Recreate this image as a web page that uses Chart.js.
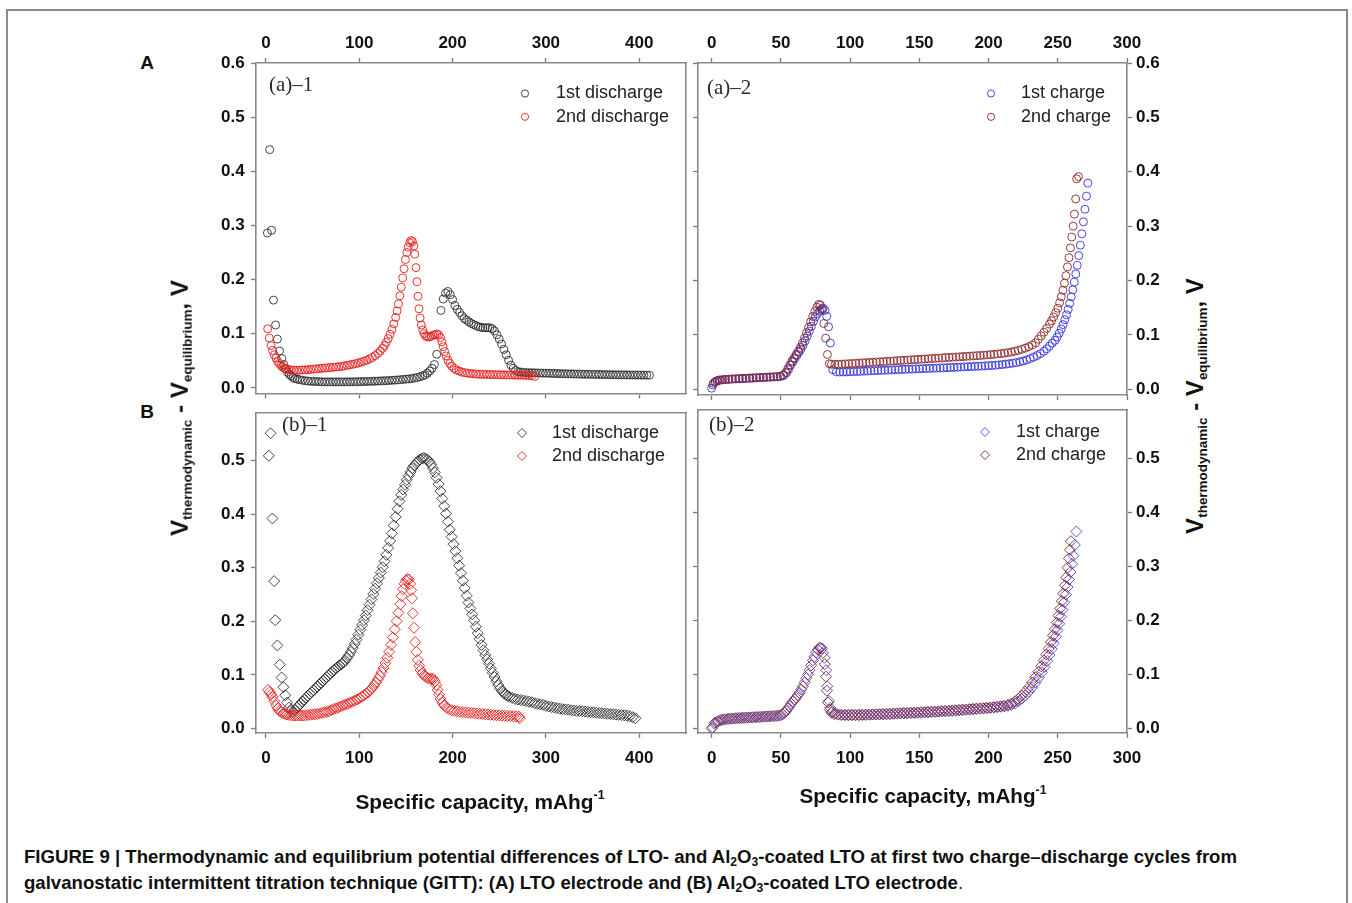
<!DOCTYPE html>
<html><head><meta charset="utf-8">
<script src="https://cdn.jsdelivr.net/npm/chart.js@4.4.1/dist/chart.umd.min.js"></script>
<style>
html,body{margin:0;padding:0;background:#fff;}
#wrap{position:relative;width:1352px;height:903px;overflow:hidden;background:#fff;font-family:'Liberation Sans',Arial,sans-serif;color:#111;}
.frame{position:absolute;left:6px;top:9px;width:1342px;height:900px;border:2px solid #8a8a8a;border-bottom:none;box-sizing:border-box;}
canvas{position:absolute;}
.c{position:absolute;transform:translate(-50%,-50%);white-space:nowrap;font-weight:bold;line-height:1;}
.yt{position:absolute;white-space:nowrap;font-weight:bold;font-size:22px;line-height:1;transform:translate(-50%,-50%) rotate(-90deg);}
.yt sub{font-size:0.56em;vertical-align:-0.3em;}
.xt{font-size:19px;}
.xt sup{font-size:0.6em;vertical-align:0.75em;font-weight:bold;}
.cap{position:absolute;left:24px;white-space:nowrap;font-weight:bold;font-size:16px;line-height:1;transform:translateY(-50%);}
.cap sub{font-size:0.65em;vertical-align:-0.25em;}
</style>
</head><body>
<div id="wrap">
  <div class="frame"></div>
  <canvas id="cA1" width="505" height="395" style="left:190px;top:15px"></canvas>
  <canvas id="cA2" width="490" height="395" style="left:690px;top:15px"></canvas>
  <canvas id="cB1" width="505" height="395" style="left:190px;top:396px"></canvas>
  <canvas id="cB2" width="490" height="395" style="left:690px;top:396px"></canvas>
  <div class="c" style="left:147px;top:62px;font-size:19px">A</div>
  <div class="c" style="left:147px;top:411px;font-size:19px">B</div>
  <div class="c xt" id="xt1" style="left:480px;top:801px">Specific capacity, mAhg<sup>-1</sup></div>
  <div class="c xt" id="xt2" style="left:923px;top:795px">Specific capacity, mAhg<sup>-1</sup></div>
  <div class="yt" id="yt1" style="left:181px;top:408px">V<sub>thermodynamic</sub> - V<sub>equilibrium</sub>, V</div>
  <div class="yt" id="yt2" style="left:1196px;top:406px">V<sub>thermodynamic</sub> - V<sub>equilibrium</sub>, V</div>
  <div class="cap" id="cap1" style="top:858px">FIGURE 9 | Thermodynamic and equilibrium potential differences of LTO- and Al<sub>2</sub>O<sub>3</sub>-coated LTO at first two charge–discharge cycles from</div>
  <div class="cap" id="cap2" style="top:884px">galvanostatic intermittent titration technique (GITT): (A) LTO electrode and (B) Al<sub>2</sub>O<sub>3</sub>-coated LTO electrode<span style="font-weight:normal">.</span></div>
</div>
<script>
// ---------- tick labels ----------
const capTicks400 = [0, 100, 200, 300, 400];
const capTicks300 = [0, 50, 100, 150, 200, 250, 300];
const voltTicksA = [0, 0.1, 0.2, 0.3, 0.4, 0.5, 0.6];
const voltTicksB = [0, 0.1, 0.2, 0.3, 0.4, 0.5];

// ---------- series labels ----------
const dischargeLabels = ['1st discharge', '2nd discharge'];
const chargeLabels = ['1st charge', '2nd charge'];
const panelTags = ['(a)\u20131', '(a)\u20132', '(b)\u20131', '(b)\u20132'];

// ---------- (a)-1  LTO discharge  [capacity mAh/g, V] ----------
const a1Discharge1 = [[1.5,.286],[4,.44],[6,.291],[8,.162],[10.3,.116],[12.2,.09],[14.5,.068],[17,.054],[19,.043],[21,.035],[23,.029],[25,.025],[27,.022],[29,.019],[31,.017],[33.5,.016],[36,.015],[39,.014],[42,.013],[45,.0125],[48,.012],[51,.012],[54,.0115],[57,.0115],[60,.011],[63,.011],[66,.011],[69,.011],[72,.011],[75,.011],[78,.011],[81,.011],[84,.011],[87,.011],[90,.011],[93,.0112],[96,.0112],[99,.0114],[102,.0115],[105,.0115],[108,.0118],[111,.012],[114,.012],[117,.0122],[120,.0125],[123,.0128],[126,.013],[129,.0132],[132,.0135],[135,.014],[138,.0142],[141,.0145],[144,.015],[147,.0155],[150,.016],[153,.0165],[156,.017],[159,.018],[162,.019],[165,.0205],[168,.022],[170.5,.024],[173,.027],[175.5,.031],[178,.036],[180.5,.043],[183,.062],[187.5,.143],[190,.164],[192.5,.175],[195,.178],[197.5,.172],[200,.163],[202.5,.152],[205,.145],[207.5,.139],[210,.133],[212.5,.128],[215,.125],[217.5,.122],[220,.119],[222.5,.117],[225,.115],[227.5,.113],[230,.112],[232.5,.111],[235,.111],[237.5,.111],[240,.111],[242.5,.109],[245,.105],[247.5,.098],[250,.09],[252.5,.081],[255,.071],[257.5,.061],[260,.051],[262.5,.042],[265,.036],[267.5,.032],[270,.03],[273,.029],[276,.0285],[279,.028],[282,.028],[285,.0278],[288,.0276],[291,.0275],[294,.0273],[297,.0272],[300,.027],[303,.0268],[306,.0267],[309,.0265],[312,.0264],[315,.0262],[318,.0261],[321,.026],[324,.0258],[327,.0257],[330,.0256],[333,.0254],[336,.0253],[339,.0252],[342,.025],[345,.025],[348,.0249],[351,.0248],[354,.0247],[357,.0246],[360,.0245],[363,.0244],[366,.0244],[369,.0243],[372,.0242],[375,.0241],[378,.024],[381,.024],[384,.0239],[387,.0238],[390,.0238],[393,.0237],[396,.0236],[399,.0236],[402,.0235],[405,.0235],[408,.0234],[411,.0233]];
const a1Discharge2 = [[1.8,.109],[3.6,.092],[5.4,.078],[7.1,.069],[8.9,.061],[10.7,.055],[12.5,.049],[14.3,.045],[16.1,.041],[18,.038],[20,.036],[22,.0345],[24.5,.0335],[27,.033],[30,.0325],[33,.0325],[36,.0325],[39,.033],[42,.0332],[45,.0335],[48,.034],[51,.0345],[54,.035],[57,.0355],[60,.036],[63,.0365],[66,.037],[69,.0375],[72,.038],[75,.0385],[78,.039],[81,.0395],[84,.0405],[87,.0415],[90,.0425],[93,.0435],[96,.0445],[99,.046],[102,.0475],[105,.049],[108,.051],[111,.0535],[114,.056],[117,.0595],[120,.0635],[122.5,.068],[125,.073],[127,.078],[129,.084],[131,.091],[133,.099],[135,.108],[137,.118],[139,.13],[140.5,.142],[142,.155],[143.5,.17],[145,.186],[146.5,.203],[148,.22],[149.5,.237],[151,.25],[152.5,.26],[154,.268],[155.5,.272],[157,.27],[158.5,.262],[159.5,.247],[160.8,.222],[161.8,.196],[163,.169],[164,.146],[165.2,.129],[166.5,.116],[168,.107],[169.5,.1],[171,.096],[173,.094],[175,.094],[177,.095],[179,.097],[181,.098],[183,.0995],[185,.098],[187,.093],[188.5,.085],[190,.076],[191.5,.067],[193,.059],[195,.051],[197,.045],[199,.04],[201.5,.036],[204,.033],[207,.031],[210,.029],[213,.028],[216,.027],[219,.0265],[222,.026],[225,.0255],[228,.025],[231,.025],[234,.0248],[237,.0246],[240,.0245],[243,.0244],[246,.0243],[249,.0242],[252,.024],[255,.024],[258,.0238],[261,.0237],[264,.0236],[267,.0235],[270,.0234],[273,.0233],[276,.0232],[279,.023],[282,.0228],[285,.0225],[288,.021]];

// ---------- (a)-2  LTO charge ----------
const a2Charge1 = [[0,.002],[1.2,.011],[2.6,.014],[4.2,.016],[6,.017],[8,.0175],[10,.018],[12.5,.0183],[15,.0187],[17.5,.019],[20,.0193],[22.5,.0196],[25,.02],[27.5,.0203],[30,.0206],[32.5,.021],[35,.0213],[37.5,.0216],[40,.022],[42.5,.0223],[45,.0226],[47.5,.023],[50,.0236],[52,.0255],[54,.03],[55.5,.036],[57,.044],[58.5,.05],[60,.056],[61.5,.062],[63,.068],[64.5,.074],[66,.081],[67.5,.089],[69,.098],[70.5,.107],[72,.116],[73.5,.125],[75,.133],[76.5,.139],[78,.144],[79.3,.148],[80.5,.149],[81.8,.145],[83.1,.134],[84.4,.115],[85.7,.085],[87.5,.036],[90,.032],[92.5,.0318],[95,.0318],[97.5,.032],[100,.0322],[102.5,.0325],[105,.0328],[107.5,.033],[110,.0333],[112.5,.0336],[115,.0339],[117.5,.0342],[120,.0345],[122.5,.0348],[125,.035],[127.5,.0353],[130,.0356],[132.5,.0359],[135,.0362],[137.5,.0365],[140,.0367],[142.5,.037],[145,.0372],[147.5,.0375],[150,.0377],[152.5,.038],[155,.0382],[157.5,.0385],[160,.0387],[162.5,.039],[165,.0392],[167.5,.0395],[170,.0398],[172.5,.04],[175,.0403],[177.5,.0406],[180,.0409],[182.5,.0412],[185,.0415],[187.5,.0418],[190,.0421],[192.5,.0424],[195,.0427],[197.5,.043],[200,.0434],[202.5,.0438],[205,.0443],[207.5,.0449],[210,.0455],[212.5,.0462],[215,.047],[217.5,.048],[220,.049],[222.5,.0505],[225,.052],[227.5,.054],[230,.0565],[232.5,.059],[235,.062],[237.5,.0655],[240,.07],[242,.0745],[244,.0795],[246,.085],[248,.09],[249.5,.096],[251,.103],[252.5,.111],[253.8,.119],[255.1,.128],[256.3,.137],[257.5,.147],[258.6,.158],[259.7,.17],[260.8,.183],[261.9,.197],[263,.212],[264.1,.228],[265.2,.246],[266.3,.265],[267.4,.286],[268.5,.308],[269.6,.331],[270.7,.355],[271.7,.379]];
const a2Charge2 = [[0.8,.008],[2.2,.013],[3.8,.0155],[5.5,.0165],[7.5,.0175],[9.5,.018],[12,.0185],[14.5,.019],[17,.0193],[19.5,.0197],[22,.02],[24.5,.0204],[27,.0207],[29.5,.021],[32,.0214],[34.5,.0217],[37,.022],[39.5,.0224],[42,.0227],[44.5,.023],[47,.0234],[49.5,.024],[51.5,.026],[53.5,.031],[55,.038],[56.5,.045],[58,.052],[59.5,.058],[61,.064],[62.5,.07],[64,.077],[65.5,.085],[67,.094],[68.5,.104],[70,.114],[71.5,.124],[73,.134],[74.5,.143],[76,.151],[77.3,.156],[78.5,.155],[79.8,.146],[81,.121],[82.3,.094],[83.6,.064],[85,.047],[86.5,.046],[89,.0458],[91.5,.046],[94,.0463],[96.5,.0467],[99,.047],[101.5,.0474],[104,.0478],[106.5,.0482],[109,.0486],[111.5,.049],[114,.0494],[116.5,.0498],[119,.0502],[121.5,.0506],[124,.051],[126.5,.0514],[129,.0518],[131.5,.0522],[134,.0526],[136.5,.053],[139,.0534],[141.5,.0538],[144,.0542],[146.5,.0546],[149,.055],[151.5,.0554],[154,.0558],[156.5,.0562],[159,.0566],[161.5,.057],[164,.0574],[166.5,.0578],[169,.0582],[171.5,.0586],[174,.059],[176.5,.0594],[179,.0598],[181.5,.0602],[184,.0606],[186.5,.061],[189,.0614],[191.5,.0618],[194,.0622],[196.5,.0627],[199,.0632],[201.5,.0637],[204,.0643],[206.5,.065],[209,.0657],[211.5,.0665],[214,.0675],[216.5,.0686],[219,.07],[221.5,.0716],[224,.0735],[226.5,.0757],[229,.0783],[231.5,.0813],[234,.0855],[236,.092],[238,.098],[240,.105],[242,.112],[244,.12],[245.5,.126],[247,.133],[248.5,.141],[250,.149],[251.3,.159],[252.5,.17],[253.7,.182],[254.8,.195],[255.9,.209],[257,.225],[258.1,.242],[259.1,.26],[260.1,.28],[261.1,.3],[262,.322],[262.9,.35],[263.6,.387],[265,.391]];

// ---------- (b)-1  Al2O3-coated LTO discharge ----------
const b1Discharge1 = [[3,.509],[4.9,.551],[6.9,.392],[8.8,.275],[9.9,.202],[12.2,.155],[14.9,.119],[16.8,.095],[18.7,.077],[20.7,.062],[22.5,.048],[24.9,.039],[26.8,.033],[29,.031],[31,.034],[33,.039],[35,.042],[37,.046],[39,.05],[41,.054],[43,.058],[45,.061],[47,.065],[49,.068],[51,.071],[53,.075],[55,.078],[57,.082],[59,.085],[61,.089],[63,.092],[65,.096],[67,.099],[69,.103],[71,.106],[73,.109],[75,.112],[77,.115],[79,.118],[81,.12],[83,.123],[85,.127],[87,.132],[89,.137],[91,.143],[93,.15],[95,.158],[97,.166],[99,.175],[101,.184],[103,.193],[105,.202],[107,.211],[109,.221],[111,.231],[113,.241],[115,.251],[117,.261],[119,.271],[121,.281],[123,.291],[125,.301],[127,.312],[129,.324],[131,.337],[133,.35],[135,.364],[137,.379],[139,.395],[141,.41],[143,.424],[145,.436],[147,.446],[149,.455],[151,.464],[153,.472],[155,.479],[157,.486],[159,.491],[161,.495],[163,.499],[165,.502],[167,.504],[169,.505],[171,.504],[173,.502],[175,.498],[177,.493],[179,.486],[181,.478],[183,.468],[185,.456],[187,.443],[189,.429],[191,.415],[193,.401],[195,.386],[197,.371],[199,.358],[201,.344],[203,.331],[205,.318],[207,.304],[209,.29],[211,.276],[213,.262],[215,.248],[217,.235],[219,.224],[221,.213],[223,.202],[225,.19],[227,.178],[229,.167],[231,.156],[233,.146],[235,.137],[237,.129],[239,.121],[241,.112],[243,.104],[245,.096],[247,.088],[249,.081],[251,.075],[253,.07],[255,.066],[257,.063],[259,.061],[261,.059],[264,.057],[267,.055],[270,.054],[273,.053],[276,.052],[279,.051],[282,.05],[285,.049],[288,.047],[291,.046],[294,.045],[297,.044],[300,.042],[303,.041],[306,.04],[309,.039],[312,.038],[315,.037],[318,.036],[321,.0355],[324,.035],[327,.034],[330,.0335],[333,.033],[336,.0325],[339,.032],[342,.0315],[345,.031],[348,.0305],[351,.03],[354,.0295],[357,.029],[360,.0285],[363,.028],[366,.0275],[369,.027],[372,.0265],[375,.026],[378,.0255],[381,.025],[384,.0245],[387,.024],[390,.023],[393,.021],[396,.019]];
const b1Discharge2 = [[2.2,.072],[4,.068],[5.5,.064],[7,.059],[8.8,.051],[10.7,.043],[12.6,.037],[14.5,.033],[16.5,.03],[18.5,.028],[20.5,.027],[22.5,.026],[25,.025],[27.5,.0245],[30,.024],[32.5,.024],[35,.024],[37.5,.024],[40,.0242],[42.5,.0245],[45,.025],[47.5,.0255],[50,.026],[52.5,.0265],[55,.027],[57.5,.028],[60,.029],[62.5,.03],[65,.031],[67.5,.032],[70,.034],[72.5,.036],[75,.0375],[77.5,.039],[80,.041],[82.5,.043],[85,.0445],[87.5,.046],[90,.048],[92.5,.05],[95,.052],[97.5,.054],[100,.056],[102.5,.059],[105,.062],[107.5,.065],[110,.068],[112,.072],[114,.076],[116,.081],[118,.086],[120,.092],[122,.098],[124,.105],[126,.113],[128,.122],[130,.132],[132,.143],[134,.156],[136,.17],[138,.185],[140,.2],[142,.216],[144,.232],[145.5,.247],[147,.26],[148.5,.27],[150,.276],[151.5,.279],[153,.278],[154.5,.27],[155.5,.258],[156.5,.243],[157.5,.215],[158.7,.188],[160,.161],[161.3,.143],[162.7,.128],[164.2,.117],[165.7,.109],[167.5,.103],[169.5,.099],[171.5,.096],[173.5,.094],[175.5,.093],[177.5,.093],[179.5,.092],[181,.088],[182.5,.081],[184,.072],[185.5,.063],[187,.055],[189,.048],[191,.043],[193.5,.039],[196,.036],[199,.034],[202,.033],[205,.032],[208,.031],[211,.0305],[214,.03],[217,.0295],[220,.029],[223,.0285],[226,.028],[229,.0275],[232,.027],[235,.0265],[238,.026],[241,.0255],[244,.025],[247,.0247],[250,.0244],[253,.0241],[256,.0238],[259,.0235],[262,.0232],[265,.023],[268,.0225],[271,.022],[272,.019]];

// ---------- (b)-2  Al2O3-coated LTO charge ----------
const b2Charge1 = [[0,0],[1.9,.009],[4.3,.013],[6.5,.015],[9,.0165],[11.5,.0175],[14,.018],[16.5,.0185],[19,.019],[21.5,.0193],[24,.0196],[26.5,.02],[29,.0204],[31.5,.0207],[34,.021],[36.5,.0214],[39,.0218],[41.5,.0222],[44,.0226],[46.5,.023],[49,.0238],[51.4,.026],[53.8,.032],[56.2,.041],[58.6,.05],[61,.057],[63.5,.066],[65.9,.078],[68.3,.093],[70.7,.108],[73.1,.126],[75.5,.141],[77.9,.15],[79.8,.148],[81.5,.131],[82.7,.108],[83.5,.078],[84.7,.051],[85.7,.038],[87,.031],[89,.028],[91.5,.026],[94,.0252],[96.5,.025],[99,.0248],[101.5,.0248],[104,.0248],[106.5,.0249],[109,.025],[111.5,.0252],[114,.0254],[116.5,.0256],[119,.0258],[121.5,.026],[124,.0262],[126.5,.0265],[129,.0268],[131.5,.027],[134,.0273],[136.5,.0276],[139,.0279],[141.5,.0282],[144,.0285],[146.5,.0288],[149,.0291],[151.5,.0294],[154,.0297],[156.5,.03],[159,.0303],[161.5,.0306],[164,.031],[166.5,.0314],[169,.0318],[171.5,.0322],[174,.0326],[176.5,.033],[179,.0335],[181.5,.034],[184,.0345],[186.5,.035],[189,.0355],[191.5,.036],[194,.0365],[196.5,.037],[199,.0375],[201.5,.038],[204,.0386],[206.5,.0393],[209,.04],[211.5,.041],[214,.042],[216.5,.0435],[219,.046],[221.5,.05],[224,.055],[226.5,.061],[229,.068],[231.5,.076],[234,.085],[236.3,.094],[238.5,.104],[240.5,.114],[242.3,.125],[244,.136],[245.6,.147],[247.1,.158],[248.5,.17],[249.8,.182],[251.1,.194],[252.3,.207],[253.5,.22],[254.7,.234],[255.9,.248],[257,.262],[258.1,.276],[259.2,.29],[260.3,.305],[261.3,.32],[262.3,.34],[263.4,.365]];
const b2Charge2 = [[0.5,.002],[2.5,.011],[5,.014],[7.5,.016],[10,.017],[12.5,.018],[15,.0185],[17.5,.019],[20,.0193],[22.5,.0197],[25,.02],[27.5,.0204],[30,.0208],[32.5,.0211],[35,.0215],[37.5,.0219],[40,.0223],[42.5,.0227],[45,.0231],[47.5,.0236],[50,.0248],[52.5,.029],[55,.037],[57.5,.046],[60,.054],[62.3,.062],[64.7,.072],[67.1,.085],[69.5,.1],[71.9,.117],[74.3,.133],[76.7,.146],[78.6,.149],[80.3,.14],[81.6,.119],[82.5,.096],[83.2,.07],[84,.048],[85.2,.035],[86.5,.029],[88.5,.0265],[91,.0255],[93.5,.025],[96,.025],[98.5,.0249],[101,.0249],[103.5,.025],[106,.0251],[108.5,.0253],[111,.0255],[113.5,.0257],[116,.0259],[118.5,.0261],[121,.0263],[123.5,.0266],[126,.0269],[128.5,.0272],[131,.0275],[133.5,.0278],[136,.0281],[138.5,.0284],[141,.0287],[143.5,.029],[146,.0293],[148.5,.0296],[151,.0299],[153.5,.0302],[156,.0305],[158.5,.0308],[161,.0312],[163.5,.0316],[166,.032],[168.5,.0324],[171,.0328],[173.5,.0332],[176,.0337],[178.5,.0342],[181,.0347],[183.5,.0352],[186,.0357],[188.5,.0362],[191,.0367],[193.5,.0372],[196,.0377],[198.5,.0382],[201,.0388],[203.5,.0395],[206,.0402],[208.5,.041],[211,.042],[214,.044],[216.5,.046],[219,.05],[221.5,.055],[224,.061],[226.5,.068],[229,.076],[231.5,.085],[233.8,.095],[236,.105],[238,.115],[239.9,.126],[241.7,.137],[243.4,.148],[245,.16],[246.5,.172],[247.9,.184],[249.2,.196],[250.5,.209],[251.7,.222],[252.9,.236],[254,.25],[255.1,.265],[256.1,.28],[257.1,.298],[258,.315],[258.8,.331],[259.5,.347]];

// ---------- helpers ----------
const FONT = "'Liberation Sans', Arial, sans-serif";
const toXY = arr => arr.map(p => ({x: p[0], y: p[1]}));

const panelDecor = {
  id: 'panelDecor',
  afterDatasetsDraw(chart, args, o) {
    const ctx = chart.ctx;
    ctx.save();
    ctx.textBaseline = 'middle';
    ctx.textAlign = 'left';
    ctx.fillStyle = '#2a2a2a';
    ctx.font = o.tagFont;
    ctx.fillText(o.tag, o.tagX - o.ox, o.tagY - o.oy);
    chart.data.datasets.forEach((ds, i) => {
      const y = o.legY + i * o.legGap - o.oy;
      ctx.strokeStyle = ds.borderColor;
      ctx.fillStyle = 'rgba(0,0,0,0)';
      ctx.lineWidth = ds.borderWidth;
      Chart.helpers.drawPoint(ctx, {pointStyle: ds.pointStyle, radius: o.legRadius, borderWidth: ds.borderWidth, rotation: 0}, o.symX - o.ox, y);
      ctx.fillStyle = '#222';
      ctx.font = o.legFont;
      ctx.fillText(ds.label, o.textX - o.ox, y);
    });
    ctx.restore();
  }
};

function hAxis(pos, size, labels, ticksOn, range, vals, pad) {
  return {
    type: 'linear', position: pos, min: range[0], max: range[1],
    afterFit: s => { s.height = size; },
    afterBuildTicks: s => { s.ticks = vals.map(v => ({value: v})); },
    grid: {display: true, drawOnChartArea: false, drawTicks: ticksOn, tickLength: 5, tickColor: '#7a7a7a', tickWidth: 1.3},
    border: {display: true, color: '#8a8a8a', width: 1.6},
    ticks: {display: labels, autoSkip: false, maxRotation: 0, padding: pad, color: '#111',
      font: {family: FONT, size: 17, weight: 'bold'}, callback: v => String(v)}
  };
}
function vAxis(pos, size, labels, ticksOn, range, vals, pad) {
  return {
    type: 'linear', position: pos, min: range[0], max: range[1],
    afterFit: s => { s.width = size; },
    afterBuildTicks: s => { s.ticks = vals.map(v => ({value: v})); },
    grid: {display: true, drawOnChartArea: false, drawTicks: ticksOn, tickLength: 5, tickColor: '#7a7a7a', tickWidth: 1.3},
    border: {display: true, color: '#8a8a8a', width: 1.6},
    ticks: {display: labels, autoSkip: false, padding: pad, color: '#111',
      font: {family: FONT, size: 17, weight: 'bold'}, callback: v => v.toFixed(1)}
  };
}
// drawOrder: lower number is painted on top (2nd cycle drawn over 1st, as in the figure)
function ds(label, data, color, style, radius, drawOrder) {
  return {label, data: toXY(data), showLine: false, pointStyle: style, pointRadius: radius,
    pointHoverRadius: radius, borderColor: color, backgroundColor: 'rgba(0,0,0,0)', borderWidth: 1, order: drawOrder};
}
function panel(id, datasets, scales, decor) {
  new Chart(document.getElementById(id), {
    type: 'scatter',
    data: {datasets},
    options: {
      responsive: false, animation: false, events: [],
      layout: {padding: 0},
      plugins: {legend: {display: false}, tooltip: {enabled: false}, panelDecor: decor},
      scales
    },
    plugins: [panelDecor]
  });
}

const rangeX400 = [-10.7, 450.2];
const rangeX300 = [-9.9, 300];
const rangeYA = [-0.0105, 0.6];
const rangeYB = [-0.0085, 0.5898];
const tagFont = "21px 'Liberation Serif', 'Times New Roman', serif";
const legFont = "18px " + FONT;

// (a)-1
panel('cA1', [
  ds(dischargeLabels[0], a1Discharge1, 'rgba(40,40,40,0.85)', 'circle', 4, 1),
  ds(dischargeLabels[1], a1Discharge2, 'rgba(230,30,30,0.9)', 'circle', 4, 0)
], {
  x: hAxis('bottom', 15, false, true, rangeX400, capTicks400, 10),
  xt: hAxis('top', 48, true, true, rangeX400, capTicks400, 4.5),
  y: vAxis('left', 66, true, true, rangeYA, voltTicksA, 6.3),
  yr: vAxis('right', 9, false, false, rangeYA, voltTicksA, 3)
}, {ox: 190, oy: 15, tag: panelTags[0], tagX: 269, tagY: 85, tagFont, legFont,
    symX: 525, textX: 556, legY: 93.5, legGap: 23.3, legRadius: 3.6});

// (a)-2
panel('cA2', [
  ds(chargeLabels[0], a2Charge1, 'rgba(50,50,225,0.9)', 'circle', 4, 1),
  ds(chargeLabels[1], a2Charge2, 'rgba(140,40,40,0.9)', 'circle', 4, 0)
], {
  x: hAxis('bottom', 15, false, true, rangeX300, capTicks300, 10),
  xt: hAxis('top', 48, true, true, rangeX300, capTicks300, 4.5),
  y: vAxis('left', 8, false, true, rangeYA, voltTicksA, 3),
  yr: vAxis('right', 53, true, true, rangeYA, voltTicksA, 4)
}, {ox: 690, oy: 15, tag: panelTags[1], tagX: 707, tagY: 88, tagFont, legFont,
    symX: 991, textX: 1021, legY: 93.5, legGap: 23.3, legRadius: 3.6});

// (b)-1
panel('cB1', [
  ds(dischargeLabels[0], b1Discharge1, 'rgba(40,40,40,0.85)', 'rectRot', 5.5, 1),
  ds(dischargeLabels[1], b1Discharge2, 'rgba(230,30,30,0.9)', 'rectRot', 5.5, 0)
], {
  x: hAxis('bottom', 58, true, true, rangeX400, capTicks400, 10),
  xt: hAxis('top', 6, false, false, rangeX400, capTicks400, 4),
  y: vAxis('left', 66, true, true, rangeYB, voltTicksB, 6.3),
  yr: vAxis('right', 9, false, false, rangeYB, voltTicksB, 3)
}, {ox: 190, oy: 396, tag: panelTags[2], tagX: 282, tagY: 425, tagFont, legFont,
    symX: 522, textX: 552, legY: 433, legGap: 23, legRadius: 4.5});

// (b)-2
panel('cB2', [
  ds(chargeLabels[0], b2Charge1, 'rgba(60,60,225,0.85)', 'rectRot', 5.5, 1),
  ds(chargeLabels[1], b2Charge2, 'rgba(140,40,40,0.9)', 'rectRot', 5.5, 0)
], {
  x: hAxis('bottom', 58, true, true, rangeX300, capTicks300, 10),
  xt: hAxis('top', 6, false, false, rangeX300, capTicks300, 4),
  y: vAxis('left', 8, false, true, rangeYB, voltTicksB, 3),
  yr: vAxis('right', 53, true, true, rangeYB, voltTicksB, 4)
}, {ox: 690, oy: 396, tag: panelTags[3], tagX: 709, tagY: 425, tagFont, legFont,
    symX: 985, textX: 1016, legY: 432, legGap: 23, legRadius: 4.5});

// ---------- fit text widths ----------
function fitWidth(el, target) {
  const w = el.offsetWidth;
  const fs = parseFloat(getComputedStyle(el).fontSize);
  if (w > 0) el.style.fontSize = (fs * target / w) + 'px';
}
const cap1 = document.getElementById('cap1');
fitWidth(cap1, 1214);
document.getElementById('cap2').style.fontSize = cap1.style.fontSize;
fitWidth(document.getElementById('yt1'), 256);
fitWidth(document.getElementById('yt2'), 256);
fitWidth(document.getElementById('xt1'), 249);
fitWidth(document.getElementById('xt2'), 247);
</script>
</body></html>
